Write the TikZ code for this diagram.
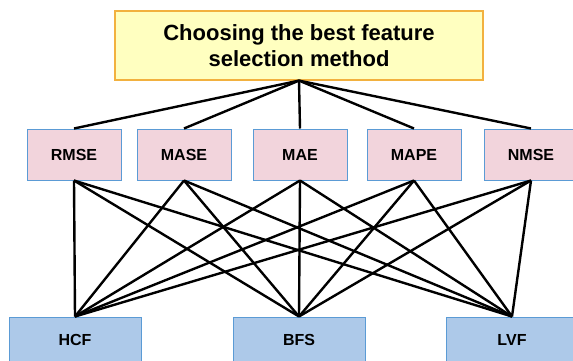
\documentclass[tikz,border=0pt]{standalone}
\usepackage{fontspec}
\setmainfont{Liberation Sans}
\definecolor{topfill}{HTML}{FFFFC0}
\definecolor{topdraw}{HTML}{F2B13F}
\definecolor{pinkfill}{HTML}{F2D4DC}
\definecolor{boxdraw}{HTML}{5B9BD5}
\definecolor{bluefill}{HTML}{ADC9E9}
\tikzset{
  topbox/.style={draw=topdraw, fill=topfill, line width=1.2pt, minimum width=368pt, minimum height=69pt, align=center, font=\fontsize{22}{26}\selectfont\bfseries, inner sep=0pt},
  metricbox/.style={draw=boxdraw, fill=pinkfill, line width=1pt, minimum width=94pt, minimum height=51pt, font=\fontsize{16}{19}\selectfont\bfseries, inner sep=0pt},
  methodbox/.style={draw=boxdraw, fill=bluefill, line width=1pt, minimum width=132pt, minimum height=46pt, font=\fontsize{16}{19}\selectfont\bfseries, inner sep=0pt},
  link/.style={line width=2.4pt, black}
}
\begin{document}
\begin{tikzpicture}[x=1pt, y=-1pt]
\useasboundingbox (0,0) rectangle (573,360);
\clip (0,0) rectangle (573,360);
\node[topbox] (top) at (299,45.5) {Choosing the best feature\\selection method};
\node[metricbox] (rmse) at (74,154.5) {RMSE};
\node[metricbox] (mase) at (184,154.5) {MASE};
\node[metricbox] (mae) at (300,154.5) {MAE};
\node[metricbox] (mape) at (414,154.5) {MAPE};
\node[metricbox] (nmse) at (531,154.5) {NMSE};
\node[methodbox] (hcf) at (75,340) {HCF};
\node[methodbox] (bfs) at (299,340) {BFS};
\node[methodbox] (lvf) at (512,340) {LVF};
\foreach \m in {rmse,mase,mae,mape,nmse}{
  \draw[link] (top.south) -- (\m.north);
  \foreach \b in {hcf,bfs,lvf}{
    \draw[link] (\m.south) -- (\b.north);
  }
}
\end{tikzpicture}
\end{document}
